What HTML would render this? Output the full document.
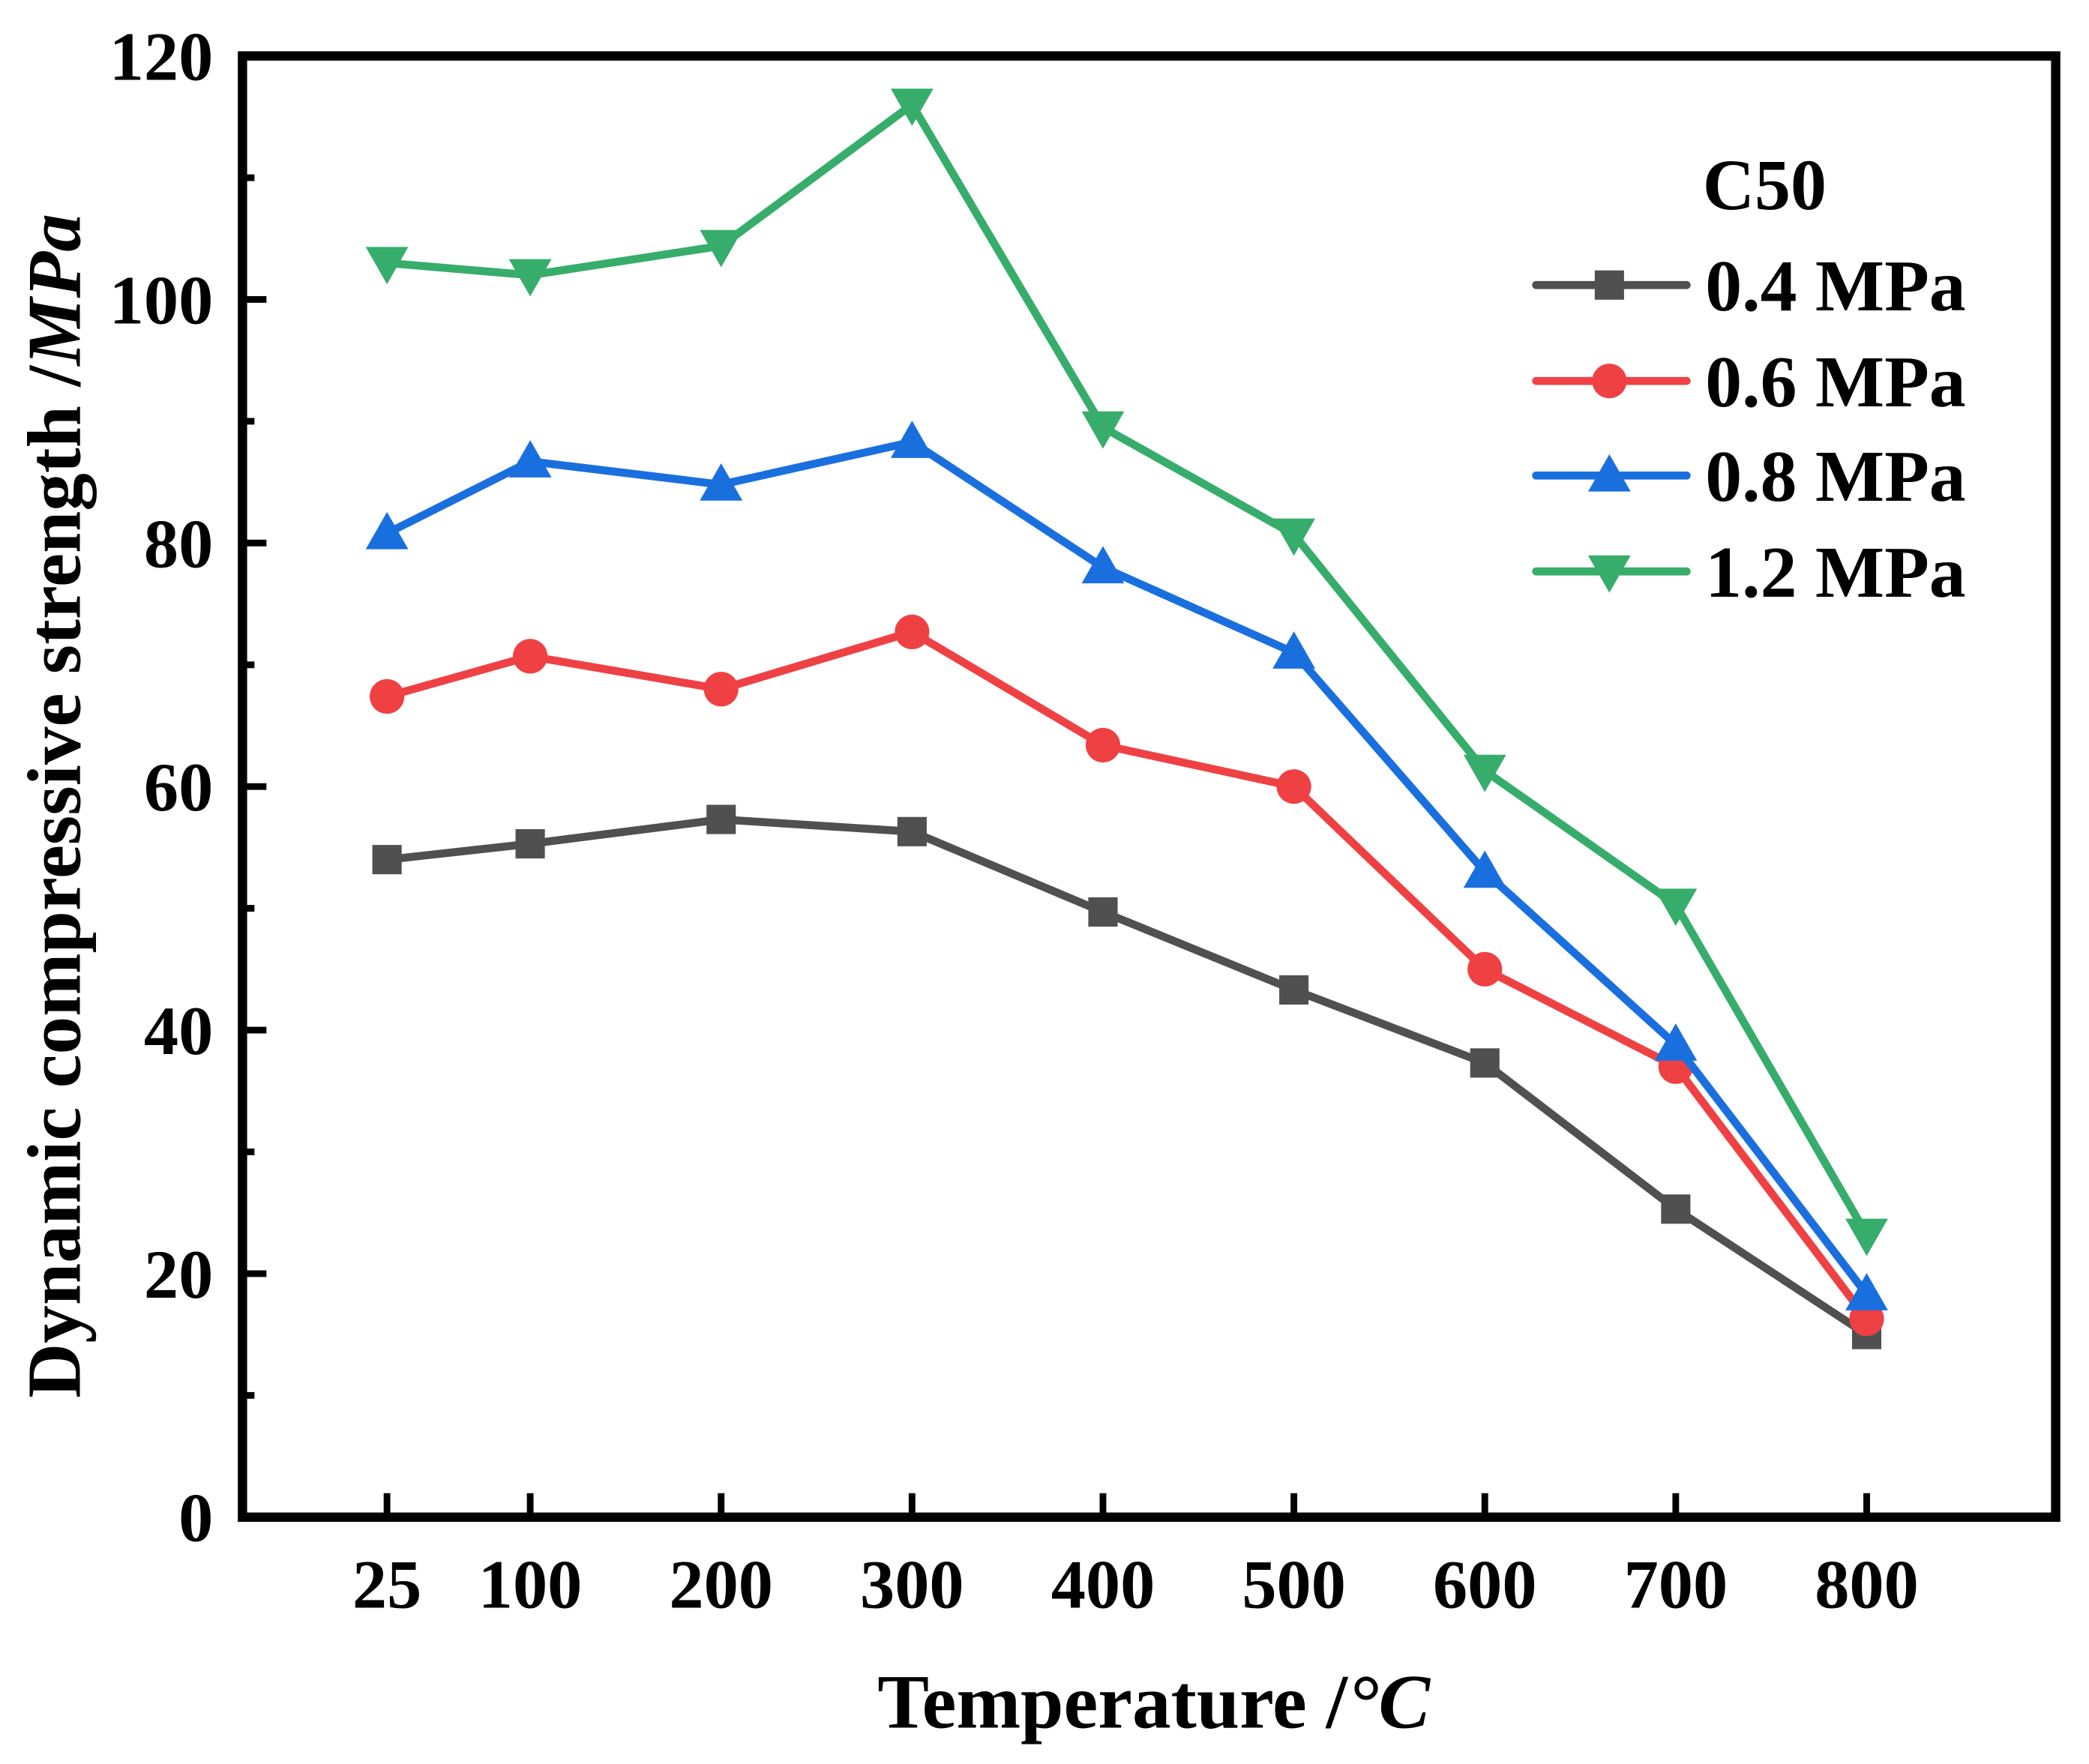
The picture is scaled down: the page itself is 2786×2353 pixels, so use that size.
<!DOCTYPE html>
<html><head><meta charset="utf-8"><style>
html,body{margin:0;padding:0;background:#fff}
svg{display:block}
text{font-family:"Liberation Serif",serif;font-weight:bold;fill:#000}
</style></head><body>
<svg id="chart" width="2786" height="2353" viewBox="0 0 1568 1324.3" preserveAspectRatio="none" xmlns="http://www.w3.org/2000/svg">
<g id="series"></g>
<g id="axes"></g>
<text transform="translate(60,605) rotate(-90)" text-anchor="middle" font-size="57">Dynamic compressive strength /<tspan font-style="italic">MPa</tspan></text>
<text x="866" y="1297" text-anchor="middle" font-size="58">Temperature /<tspan font-style="italic">°C</tspan></text>
<g id="legend">
<text x="1278" y="157" font-size="54">C50</text>
</g>
</svg>
<script>
const categories = [25, 100, 200, 300, 400, 500, 600, 700, 800];
const s04 = [54, 55.3, 57.3, 56.3, 49.7, 43.3, 37.3, 25.3, 15];
const s06 = [67.4, 70.7, 68, 72.7, 63.4, 60, 45, 37, 16.3];
const s08 = [80.8, 86.7, 84.8, 88.3, 78, 71, 53, 38.8, 18.3];
const s12 = [103, 102, 104.4, 116, 89.5, 80.7, 61.3, 50.3, 23.2];
const seriesNames = ["0.4 MPa", "0.6 MPa", "0.8 MPa", "1.2 MPa"];
const yTicks = [0, 20, 40, 60, 80, 100, 120];
const yMinor = [10, 30, 50, 70, 90, 110];

const NS = "http://www.w3.org/2000/svg";
const L = 182, R = 1543, T = 42, B = 1139;
const xMin = -50.7, xMax = 899, yMin = 0, yMax = 120;
function xs(v){ return L + (v - xMin) / (xMax - xMin) * (R - L); }
function ys(v){ return B - (v - yMin) / (yMax - yMin) * (B - T); }
function mk(tag, attrs, parent){ const e = document.createElementNS(NS, tag); for (const k in attrs) e.setAttribute(k, attrs[k]); parent.appendChild(e); return e; }

const styles = [
  {c:"#505050", m:"square"}, {c:"#ef4144", m:"circle"},
  {c:"#1a6fdf", m:"up"}, {c:"#37ad6b", m:"down"}
];
const data = [s04, s06, s08, s12];

function marker(type, x, y, col, parent){
  let e;
  if (type === "square") e = mk("rect", {x:x-11, y:y-11, width:22, height:22, fill:col}, parent);
  else if (type === "circle") e = mk("circle", {cx:x, cy:y, r:13, fill:col}, parent);
  else if (type === "up") e = mk("polygon", {points:`${x},${y-16} ${x+16},${y+12} ${x-16},${y+12}`, fill:col}, parent);
  else e = mk("polygon", {points:`${x},${y+16} ${x+16},${y-12} ${x-16},${y-12}`, fill:col}, parent);
  return e;
}

const sg = document.getElementById("series");
data.forEach((vals, i) => {
  const g = mk("g", {}, sg);
  
  
  const pts = vals.map((v, j) => xs(categories[j]) + "," + ys(v)).join(" ");
  const pl = mk("polyline", {points:pts, fill:"none", stroke:styles[i].c, "stroke-width":6, "stroke-linejoin":"round"}, g);
  
  
  vals.forEach((v, j) => {
    const m = marker(styles[i].m, xs(categories[j]), ys(v), styles[i].c, g);
    
    
  });
});

const ax = document.getElementById("axes");
const frame = mk("rect", {x:L, y:T, width:R-L, height:B-T, fill:"none", stroke:"#000", "stroke-width":7}, ax);


yTicks.forEach(v => {
  const t = mk("line", {x1:L, x2:L+18, y1:ys(v), y2:ys(v), stroke:"#000", "stroke-width":5}, ax);
  
  
  const tx = mk("text", {x:160, y:ys(v)+18, "text-anchor":"end", "font-size":52}, ax);
  tx.textContent = v;
  
  
});
yMinor.forEach(v => {
  const t = mk("line", {x1:L, x2:L+9, y1:ys(v), y2:ys(v), stroke:"#000", "stroke-width":5}, ax);
  
  
});
categories.forEach(v => {
  const t = mk("line", {x1:xs(v), x2:xs(v), y1:B, y2:B-18, stroke:"#000", "stroke-width":5}, ax);
  
  
  const tx = mk("text", {x:xs(v), y:1207, "text-anchor":"middle", "font-size":52}, ax);
  tx.textContent = v;
  
  
});

const lg = document.getElementById("legend");
const rows = [214, 286, 357, 429];
seriesNames.forEach((n, i) => {
  const g = mk("g", {}, lg);
  
  
  mk("line", {x1:1153, x2:1266, y1:rows[i], y2:rows[i], stroke:styles[i].c, "stroke-width":6, "stroke-linecap":"round"}, g);
  marker(styles[i].m, 1208, rows[i], styles[i].c, g);
  const tx = mk("text", {x:1280, y:rows[i]+19, "font-size":55}, g);
  tx.textContent = n;
});
</script>
</body></html>
